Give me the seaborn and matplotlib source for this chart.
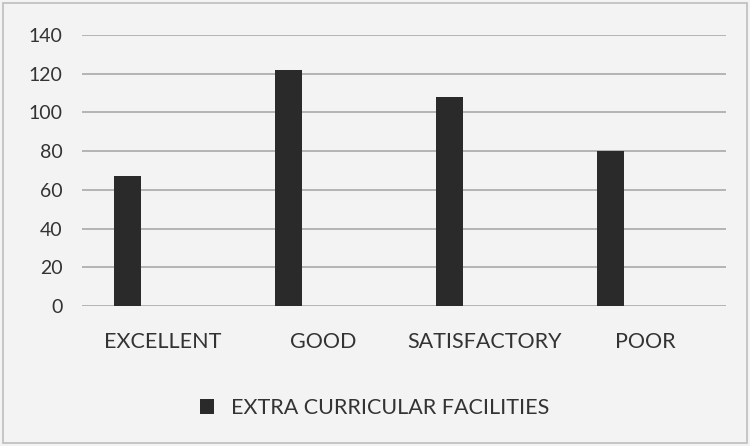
import pandas as pd
import matplotlib.pyplot as plt
import seaborn as sns
from matplotlib.patches import Rectangle, Patch

categories = ['EXCELLENT', 'GOOD', 'SATISFACTORY', 'POOR']
values = [67, 122, 108, 80]
series = 'EXTRA CURRICULAR FACILITIES'
# empty series slots, like the source spreadsheet chart
empty_series = ['s2', 's3']

rows = [{'cat': c, 'val': v, 'series': series} for c, v in zip(categories, values)]
for s in empty_series:
    rows += [{'cat': c, 'val': float('nan'), 'series': s} for c in categories]
df = pd.DataFrame(rows)

sns.set_style('white')
plt.rcParams['font.family'] = ['Lato', 'DejaVu Sans']

fig = plt.figure(figsize=(7.5, 4.46), dpi=100)
fig.patch.set_facecolor('#f3f3f3')
ax = fig.add_axes([0.109, 0.314, 0.859, 0.6075])
ax.set_facecolor('#f3f3f3')

bar_color = '#2a2a2a'
sns.barplot(data=df, x='cat', y='val', hue='series', order=categories,
            hue_order=[series] + empty_series,
            palette=[bar_color, bar_color, bar_color],
            width=0.65, gap=0.23, ax=ax, legend=False, errorbar=None,
            linewidth=0, saturation=1)

ax.set_ylim(0, 140)
ax.set_yticks(range(0, 141, 20))
ax.grid(axis='y', color='#b4b4b4', linewidth=1.4)
ax.set_axisbelow(True)
for sp in ax.spines.values():
    sp.set_visible(False)
ax.set_xlabel('')
ax.set_ylabel('')
ax.tick_params(axis='y', length=0, pad=14, labelsize=14, labelcolor='#333333')
ax.tick_params(axis='x', length=0, pad=19, labelsize=15.5, labelcolor='#333333')

handle = Patch(facecolor=bar_color, edgecolor='none')
fig.legend([handle], [series], loc='center', bbox_to_anchor=(0.5, 0.085),
           frameon=False, fontsize=15.5, labelcolor='#333333',
           handlelength=0.65, handleheight=0.65, handletextpad=0.8)

fig.patches.append(Rectangle((0.004, 0.007), 0.992, 0.986, transform=fig.transFigure,
                             fill=False, edgecolor='#bdbdbd', linewidth=1.2))

fig.savefig('out.png', dpi=100, facecolor=fig.get_facecolor())
